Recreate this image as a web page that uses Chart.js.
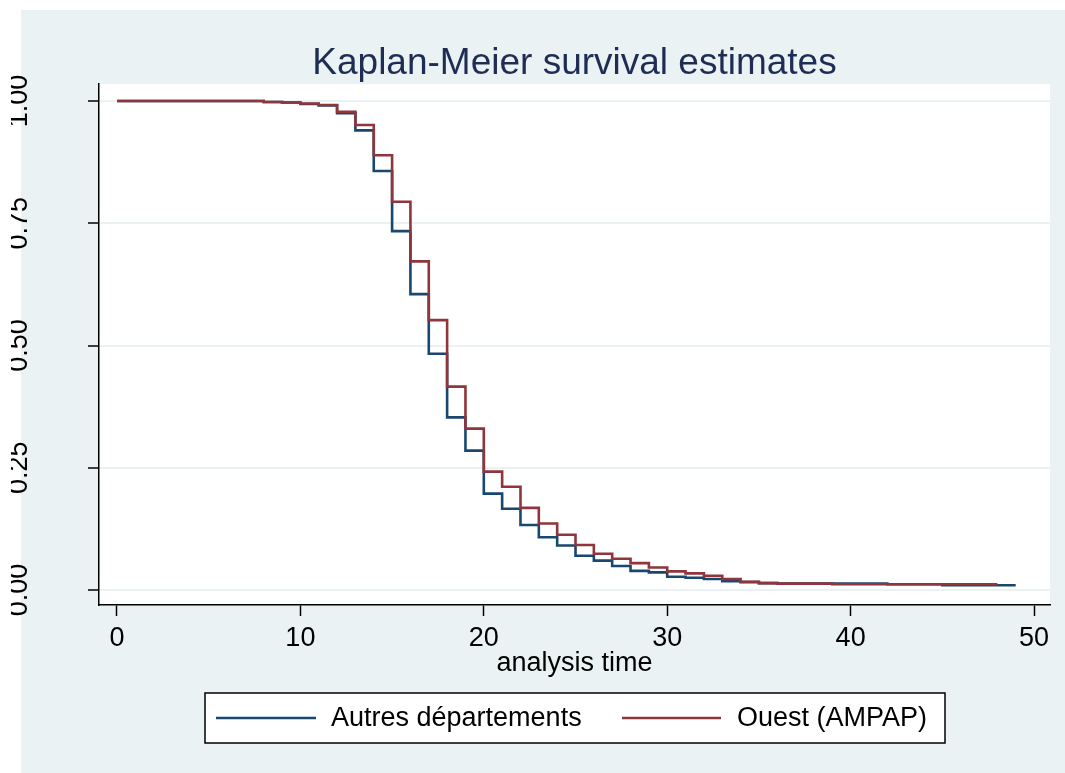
<!DOCTYPE html>
<html>
<head>
<meta charset="utf-8">
<title>Kaplan-Meier survival estimates</title>
<script src="https://cdn.jsdelivr.net/npm/chart.js@4.4.1/dist/chart.umd.min.js"></script>
<style>
  html, body { margin: 0; padding: 0; background: #fff; }
  #wrap { width: 1065px; height: 773px; }
</style>
</head>
<body>
<div id="wrap"><canvas id="km" width="1065" height="773"></canvas></div>
<script>
// Survival data (time, S(t)) - step happens at each time
const timesAutres = [0, 8, 9, 10, 11, 12, 13, 14, 15, 16, 17, 18, 19, 20, 21, 22, 23, 24, 25, 26, 27, 28, 29, 30, 31, 32, 33, 34, 35, 36, 42, 45, 49];
const survAutres = [1, 0.998, 0.997, 0.994, 0.991, 0.975, 0.940, 0.857, 0.734, 0.605, 0.483, 0.353, 0.285, 0.197, 0.166, 0.133, 0.108, 0.091, 0.070, 0.060, 0.049, 0.039, 0.036, 0.027, 0.025, 0.0225, 0.018, 0.016, 0.014, 0.013, 0.0116, 0.0096, 0.0096];

const timesOuest = [0, 8, 9, 10, 11, 12, 13, 14, 15, 16, 17, 18, 19, 20, 21, 22, 23, 24, 25, 26, 27, 28, 29, 30, 31, 32, 33, 34, 35, 36, 39, 48];
const survOuest = [1, 0.998, 0.997, 0.995, 0.992, 0.978, 0.951, 0.889, 0.794, 0.672, 0.552, 0.416, 0.330, 0.242, 0.211, 0.168, 0.136, 0.113, 0.092, 0.074, 0.064, 0.055, 0.046, 0.038, 0.034, 0.029, 0.0225, 0.017, 0.014, 0.013, 0.0116, 0.0116];

const xTicks = [0, 10, 20, 30, 40, 50];
const yTicks = [0, 0.25, 0.5, 0.75, 1];
const yTickLabels = ['0.00', '0.25', '0.50', '0.75', '1.00'];

const seriesNames = ['Autres départements', 'Ouest (AMPAP)'];
const BLUE = '#1a476f';
const RED = '#90353b';
const BG = '#eaf2f3';
const FONT = '"Liberation Sans", Arial, sans-serif';

function toPoints(ts, ss) {
  return ts.map((t, i) => ({ x: t, y: ss[i] }));
}

// Background, title, rotated y labels, axis title and legend box
const stataLook = {
  id: 'stataLook',
  beforeDraw(chart) {
    const ctx = chart.ctx;
    const a = chart.chartArea;
    ctx.save();
    ctx.fillStyle = '#fff';
    ctx.fillRect(0, 0, chart.width, chart.height);
    ctx.fillStyle = BG;
    ctx.fillRect(21, 10, chart.width - 21, chart.height - 10);
    ctx.fillStyle = '#fff';
    ctx.fillRect(a.left, a.top, a.right - a.left, a.bottom - a.top);
    ctx.restore();
  },
  afterDraw(chart) {
    const ctx = chart.ctx;
    const a = chart.chartArea;
    const yScale = chart.scales.y;
    const cx = (a.left + a.right) / 2;

    ctx.save();
    // title
    ctx.fillStyle = '#1f2d55';
    ctx.font = '37px ' + FONT;
    ctx.textAlign = 'center';
    ctx.textBaseline = 'alphabetic';
    ctx.fillText('Kaplan-Meier survival estimates', cx, 74);

    // y tick labels, rotated and clipped like the original
    ctx.save();
    ctx.beginPath();
    ctx.rect(11, 0, 200, chart.height);
    ctx.clip();
    ctx.fillStyle = '#000';
    ctx.font = '27px ' + FONT;
    yTicks.forEach((v, i) => {
      const py = yScale.getPixelForValue(v);
      ctx.save();
      ctx.translate(27, py);
      ctx.rotate(-Math.PI / 2);
      ctx.textAlign = 'center';
      ctx.textBaseline = 'alphabetic';
      ctx.fillText(yTickLabels[i], 0, 0);
      ctx.restore();
    });
    ctx.restore();

    // x axis title
    ctx.fillStyle = '#000';
    ctx.font = '27px ' + FONT;
    ctx.textAlign = 'center';
    ctx.textBaseline = 'alphabetic';
    ctx.fillText('analysis time', cx, 671);

    // legend
    ctx.fillStyle = '#fff';
    ctx.fillRect(205, 693, 740, 50);
    ctx.strokeStyle = '#000';
    ctx.lineWidth = 1.5;
    ctx.strokeRect(205, 693, 740, 50);
    const items = [
      { color: BLUE, x0: 216, x1: 316, tx: 331, label: seriesNames[0] },
      { color: RED, x0: 622, x1: 721, tx: 737, label: seriesNames[1] }
    ];
    items.forEach(it => {
      ctx.strokeStyle = it.color;
      ctx.lineWidth = 2.5;
      ctx.beginPath();
      ctx.moveTo(it.x0, 718);
      ctx.lineTo(it.x1, 718);
      ctx.stroke();
      ctx.fillStyle = '#000';
      ctx.font = '27px ' + FONT;
      ctx.textAlign = 'left';
      ctx.textBaseline = 'middle';
      ctx.fillText(it.label, it.tx, 719);
    });
    ctx.restore();
  }
};

new Chart(document.getElementById('km'), {
  type: 'line',
  data: {
    datasets: [
      {
        label: seriesNames[0],
        data: toPoints(timesAutres, survAutres),
        borderColor: BLUE,
        borderWidth: 2.6,
        pointRadius: 0,
        stepped: true,
        fill: false,
        order: 1
      },
      {
        label: seriesNames[1],
        data: toPoints(timesOuest, survOuest),
        borderColor: RED,
        borderWidth: 2.6,
        pointRadius: 0,
        stepped: true,
        fill: false,
        order: 0
      }
    ]
  },
  options: {
    responsive: false,
    animation: false,
    layout: { padding: { left: 0, top: 84, right: 15, bottom: 0 } },
    plugins: {
      legend: { display: false },
      tooltip: { enabled: false },
      title: { display: false }
    },
    scales: {
      x: {
        type: 'linear',
        min: -0.98,
        max: 50.87,
        afterBuildTicks: scale => { scale.ticks = xTicks.map(v => ({ value: v })); },
        afterFit: scale => { scale.height = 168; },
        ticks: {
          color: '#000',
          font: { family: FONT, size: 27 },
          padding: 6,
          maxRotation: 0,
          autoSkip: false
        },
        grid: {
          drawOnChartArea: false,
          drawTicks: true,
          tickLength: 11,
          tickColor: '#000',
          tickWidth: 1.5
        },
        border: { display: true, color: '#000', width: 1.5 }
      },
      y: {
        type: 'linear',
        min: -0.0307,
        max: 1.0348,
        afterBuildTicks: scale => { scale.ticks = yTicks.map(v => ({ value: v })); },
        afterFit: scale => { scale.width = 99; },
        ticks: { display: false },
        grid: {
          color: BG,
          lineWidth: 2,
          drawTicks: true,
          tickLength: 11,
          tickColor: '#000',
          tickWidth: 1.5
        },
        border: { display: true, color: '#000', width: 1.5 }
      }
    }
  },
  plugins: [stataLook]
});
</script>
</body>
</html>
